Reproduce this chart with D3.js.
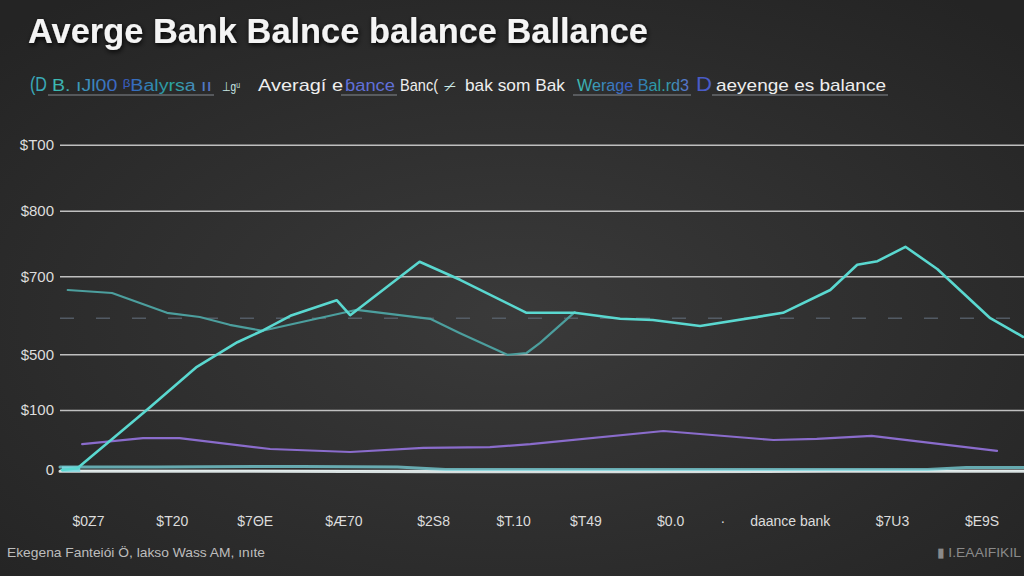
<!DOCTYPE html>
<html><head><meta charset="utf-8">
<script src="https://cdn.jsdelivr.net/npm/d3@7/dist/d3.min.js"></script>
<style>
html,body{margin:0;padding:0;background:#2a2a2a;}
svg{display:block;}
text{font-family:"Liberation Sans",Arial,sans-serif;}
</style></head>
<body><svg id="chart" width="1024" height="576"></svg>
<script>
// ---------- data ----------
const titleText = "Averge Bank Balnce balance Ballance";
const legendLabels = ["(D", "B. ıJl00 ᵝBalyrsa ıı", "⊥ɡᵘ", "Averagí e", "ɓance", "Banc(", "⌿", "bak som Bak", "Werage Bal.rd3", "D", "aeyenge es balance"];
const legendKinds  = ["icon", "mix", "small", "plain", "blue", "plain", "small", "plain", "mix", "icon2", "plain"];

const yTickValues = [0, 100, 193, 323, 432, 542];
const yTickLabels = ["0", "$100", "$500", "$700", "$800", "$T00"];

const xTickValues = [2.9, 11.6, 20.2, 29.4, 38.7, 47.0, 54.5, 63.3, 68.7, 75.7, 86.3, 95.6];
const xTickLabels = ["$0Z7", "$T20", "$7ΘE", "$Æ70", "$2S8", "$T.10", "$T49", "$0.0", "·", "daance bank", "$7U3", "$E9S"];

// bright cyan series
const brightX = [0.2, 1.8, 9.0, 14.2, 18.4, 21.1, 23.9, 28.7, 30.1, 37.3, 41.5, 48.4, 53.4, 58.1, 61.5, 66.4, 75.0, 79.9, 82.7, 84.8, 87.7, 91.0, 96.5, 99.9];
const brightY = [0, 3, 100, 172, 213, 233, 257, 283, 258, 347, 317, 262, 262, 252, 250, 240, 262, 300, 342, 348, 372, 335, 253, 222];
// dim teal series
const tealX = [0.8, 5.4, 11.1, 14.5, 17.6, 21.0, 30.8, 38.4, 41.5, 46.4, 48.4, 49.8, 53.4];
const tealY = [300, 295, 262, 255, 242, 232, 267, 252, 228, 192, 195, 212, 263];
// purple series
const purpleX = [2.3, 8.6, 12.4, 21.8, 30.1, 37.7, 44.6, 48.8, 62.6, 74.0, 78.5, 84.2, 97.2];
const purpleY = [43, 53, 53, 35, 30, 37, 38, 43, 65, 50, 52, 57, 32];
// baseline streaks
const baseWhiteX = [0, 20, 40, 60, 80, 100];
const baseWhiteY = [-2, -2, -3, -3, -2, -2];
const baseCyanX = [0, 10, 25, 35, 40, 90, 94, 100];
const baseCyanY = [5, 5, 6, 5, 1, 1, 4, 4];
const dashedRef = 253;

const footLeft = "Ekegena Fanteiói Ö, lakso Wass AM, ınıte";
const footRight = "▮ I.EAAIFIKIL";

// ---------- drawing ----------
const W = 1024, H = 576;
const svg = d3.select("#chart");
const defs = svg.append("defs");
const bg = defs.append("radialGradient").attr("id","bg").attr("cx","50%").attr("cy","55%").attr("r","70%");
bg.append("stop").attr("offset","0%").attr("stop-color","#3a3a3a");
bg.append("stop").attr("offset","100%").attr("stop-color","#242424");
const mix = defs.append("linearGradient").attr("id","mix");
mix.append("stop").attr("offset","0%").attr("stop-color","#3cc0b0");
mix.append("stop").attr("offset","45%").attr("stop-color","#3a5cc8");
mix.append("stop").attr("offset","75%").attr("stop-color","#2aa8a0");
mix.append("stop").attr("offset","100%").attr("stop-color","#5a70d0");
const sh = defs.append("filter").attr("id","shadow").attr("x","-10%").attr("y","-40%").attr("width","120%").attr("height","180%");
sh.append("feDropShadow").attr("dx",1).attr("dy",2).attr("stdDeviation",2.5).attr("flood-color","#000").attr("flood-opacity",0.9);

svg.append("rect").attr("width",W).attr("height",H).attr("fill","url(#bg)");

const x = d3.scaleLinear().domain([0,100]).range([60,1024]);
const y = d3.scaleLinear().domain([0,560]).range([470,134]);

// title
svg.append("text").attr("x",28).attr("y",43).attr("font-size",35).attr("font-weight","bold")
  .attr("fill","#f4f4f4").attr("filter","url(#shadow)")
  .attr("textLength",620).attr("lengthAdjust","spacingAndGlyphs").text(titleText);

// legend row
const legendX = [30, 52, 222, 258, 345, 400, 444, 465, 577, 696, 716];
const legendW = [17, 160, 18, 85, 50, 38, 12, 100, 112, 16, 170];
const legendG = svg.append("g");
legendLabels.forEach((lab, i) => {
  const k = legendKinds[i];
  const t = legendG.append("text").attr("x", legendX[i]).attr("y", 91).text(lab)
    .attr("textLength", legendW[i]).attr("lengthAdjust","spacingAndGlyphs");
  if (k === "icon") t.attr("font-size",21).attr("fill","#3aa9b8");
  else if (k === "icon2") t.attr("font-size",21).attr("fill","#4a5cc8");
  else if (k === "mix") t.attr("font-size",16).attr("fill","url(#mix)");
  else if (k === "small") t.attr("font-size",13).attr("fill","#c8e8e4");
  else if (k === "blue") t.attr("font-size",16).attr("fill","#6070d8");
  else t.attr("font-size",17).attr("fill","#eeeeee");
  if (k === "mix" || k === "blue" || i === legendLabels.length-1) {
    legendG.append("line").attr("x1",legendX[i]-4).attr("x2",legendX[i]+legendW[i]+2)
      .attr("y1",95).attr("y2",95).attr("stroke","#9aa0a8").attr("stroke-width",1.2).attr("opacity",0.8);
  }
});

// y axis with gridlines
const yAxis = d3.axisLeft(y).tickValues(yTickValues)
  .tickFormat((d,i) => yTickLabels[i]).tickSize(-(W-60)).tickPadding(6);
const yg = svg.append("g").attr("transform","translate(60,0)").call(yAxis);
yg.select(".domain").remove();
yg.selectAll(".tick line").attr("stroke","#cfcfcf").attr("stroke-width",1.5).attr("opacity",0.9);
yg.selectAll(".tick text").attr("fill","#dddddd").attr("font-size",15)
  .attr("font-family","'Liberation Sans Narrow','DejaVu Sans Condensed','Liberation Sans',sans-serif");

// dashed reference
svg.append("line").attr("x1",x(0)).attr("x2",x(100)).attr("y1",y(dashedRef)).attr("y2",y(dashedRef))
  .attr("stroke","#5c6672").attr("stroke-width",1.5).attr("stroke-dasharray","14 22").attr("opacity",0.8);

// x axis labels
const xAxis = d3.axisBottom(x).tickValues(xTickValues).tickFormat((d,i)=>xTickLabels[i]).tickSize(0).tickPadding(8);
const xg = svg.append("g").attr("transform","translate(0,508)").call(xAxis);
xg.select(".domain").remove();
xg.selectAll(".tick text").attr("fill","#dcdcdc").attr("font-size",14)
  .attr("font-family","'Liberation Sans Narrow','DejaVu Sans Condensed','Liberation Sans',sans-serif");

// lines
const line = d3.line().x(d=>x(d[0])).y(d=>y(d[1]));
const zip = (a,b) => a.map((v,i)=>[v,b[i]]);
const plot = svg.append("g").attr("fill","none").attr("stroke-linejoin","round").attr("stroke-linecap","round");

plot.append("path").datum(zip(baseWhiteX, baseWhiteY)).attr("d",line)
  .attr("stroke","#e8f2f2").attr("stroke-width",3).attr("opacity",0.9);
plot.append("path").datum(zip(baseCyanX, baseCyanY)).attr("d",line)
  .attr("stroke","#7ad4dc").attr("stroke-width",3).attr("opacity",0.75);
plot.append("rect").attr("x",x(0.2)).attr("y",y(6)).attr("width",x(2.1)-x(0.2)).attr("height",y(-3)-y(6))
  .attr("fill","#7ad8e0").attr("opacity",0.9);

plot.append("path").datum(zip(purpleX, purpleY)).attr("d",line)
  .attr("stroke","#8a6ccc").attr("stroke-width",2.2);
plot.append("path").datum(zip(tealX, tealY)).attr("d",line)
  .attr("stroke","#4c9f9e").attr("stroke-width",2.2);
plot.append("path").datum(zip(brightX, brightY)).attr("d",line)
  .attr("stroke","#5ad8d0").attr("stroke-width",2.6);

// footers
svg.append("text").attr("x",7).attr("y",557).attr("font-size",13).attr("fill","#bdbdbd")
  .attr("textLength",258).attr("lengthAdjust","spacingAndGlyphs").text(footLeft);
svg.append("text").attr("x",937).attr("y",557).attr("font-size",13).attr("fill","#8a8a8a")
  .attr("textLength",84).attr("lengthAdjust","spacingAndGlyphs").text(footRight);
</script></body></html>
